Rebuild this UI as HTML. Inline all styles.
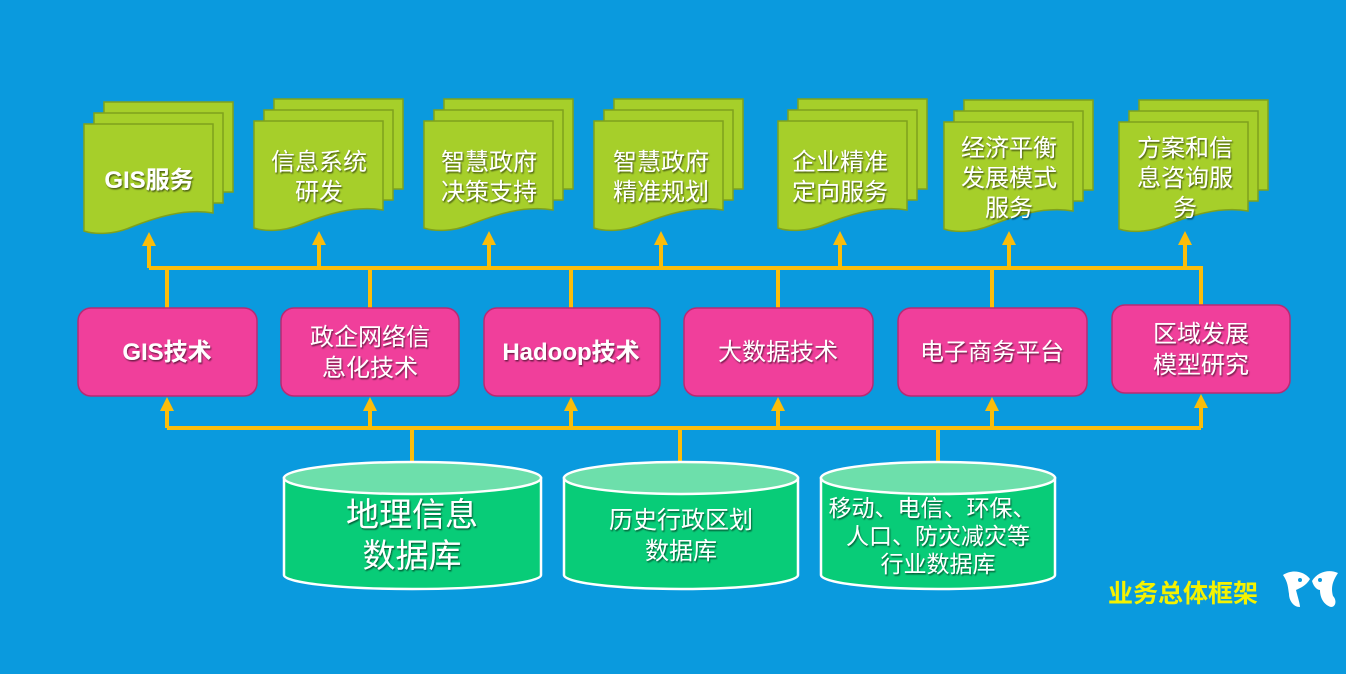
<!DOCTYPE html>
<html><head><meta charset="utf-8"><style>
html,body{margin:0;padding:0;background:#0a9ade;}
svg{display:block;}
text{font-family:"Liberation Sans","Noto Sans CJK SC",sans-serif;fill:#fff;text-anchor:middle;}
.d{font-size:24px;}
.p{font-size:24px;}
</style></head><body>
<svg width="1346" height="674" viewBox="0 0 1346 674" xmlns="http://www.w3.org/2000/svg">
<defs>
<filter id="sh" x="-10%" y="-10%" width="120%" height="130%"><feDropShadow dx="1" dy="1.5" stdDeviation="0.8" flood-color="#000" flood-opacity="0.55"/></filter>
<g id="doc">
<rect x="20" y="-22" width="129" height="90" fill="#a6cf2a" stroke="#7fa11c" stroke-width="1.5"/>
<rect x="10" y="-11" width="129" height="90" fill="#a6cf2a" stroke="#7fa11c" stroke-width="1.5"/>
<path d="M0 0H129V89C100 84 70 94 45 104C30 110 12 111 0 107Z" fill="#a6cf2a" stroke="#7fa11c" stroke-width="1.5"/>
</g>
<g id="ar"><path d="M-7 14L0 0L7 14Z" fill="#fbbd0a"/></g>
</defs>
<rect width="1346" height="674" fill="#0a9ade"/>
<use href="#doc" x="84" y="124"/>
<use href="#doc" x="254" y="121"/>
<use href="#doc" x="424" y="121"/>
<use href="#doc" x="594" y="121"/>
<use href="#doc" x="778" y="121"/>
<use href="#doc" x="944" y="122"/>
<use href="#doc" x="1119" y="122"/>
<g filter="url(#sh)">
<text class="d" x="149" y="188" font-weight="bold">GIS服务</text>
<text class="d" x="319" y="170">信息系统</text><text class="d" x="319" y="200">研发</text>
<text class="d" x="489" y="170">智慧政府</text><text class="d" x="489" y="200">决策支持</text>
<text class="d" x="661" y="170">智慧政府</text><text class="d" x="661" y="200">精准规划</text>
<text class="d" x="840" y="170">企业精准</text><text class="d" x="840" y="200">定向服务</text>
<text class="d" x="1009" y="156">经济平衡</text><text class="d" x="1009" y="186">发展模式</text><text class="d" x="1009" y="216">服务</text>
<text class="d" x="1185" y="156">方案和信</text><text class="d" x="1185" y="186">息咨询服</text><text class="d" x="1185" y="216">务</text>
</g>
<g stroke="#fbbd0a" stroke-width="4" fill="none">
<path d="M149 268H1201V305"/>
<path d="M149 268V244M319 268V244M489 268V244M661 268V244M840 268V244M1009 268V244M1185 268V244"/>
<path d="M167 268V308M370 268V308M571 268V308M778 268V308M992 268V308"/>
<path d="M167 428H1201M167 428V408M370 428V408M571 428V408M778 428V408M992 428V408M1201 428V405"/>
<path d="M412 428V464M680 428V464M938 428V464"/>
</g>
<use href="#ar" x="149" y="232"/><use href="#ar" x="319" y="231"/><use href="#ar" x="489" y="231"/><use href="#ar" x="661" y="231"/><use href="#ar" x="840" y="231"/><use href="#ar" x="1009" y="231"/><use href="#ar" x="1185" y="231"/>
<use href="#ar" x="167" y="397"/><use href="#ar" x="370" y="397"/><use href="#ar" x="571" y="397"/><use href="#ar" x="778" y="397"/><use href="#ar" x="992" y="397"/><use href="#ar" x="1201" y="394"/>
<g fill="#f03f9b" stroke="#b82a73" stroke-width="1.5">
<rect x="78" y="308" width="179" height="88" rx="13"/>
<rect x="281" y="308" width="178" height="88" rx="13"/>
<rect x="484" y="308" width="176" height="88" rx="13"/>
<rect x="684" y="308" width="189" height="88" rx="13"/>
<rect x="898" y="308" width="189" height="88" rx="13"/>
<rect x="1112" y="305" width="178" height="88" rx="13"/>
</g>
<g filter="url(#sh)">
<text class="p" x="167" y="360" font-weight="bold">GIS技术</text>
<text class="p" x="370" y="345">政企网络信</text><text class="p" x="370" y="376">息化技术</text>
<text class="p" x="571" y="360" font-weight="bold">Hadoop技术</text>
<text class="p" x="778" y="360">大数据技术</text>
<text class="p" x="992" y="360">电子商务平台</text>
<text class="p" x="1201" y="342">区域发展</text><text class="p" x="1201" y="373">模型研究</text>
</g>
<g stroke="#fff" stroke-width="2.5">
<path d="M284 478V575A128 14 0 0 0 541 575V478Z" fill="#08cc78"/>
<ellipse cx="412.5" cy="478" rx="128.5" ry="16" fill="#6ddfab"/>
<path d="M564 478V575A117 14 0 0 0 798 575V478Z" fill="#08cc78"/>
<ellipse cx="681" cy="478" rx="117" ry="16" fill="#6ddfab"/>
<path d="M821 478V575A117 14 0 0 0 1055 575V478Z" fill="#08cc78"/>
<ellipse cx="938" cy="478" rx="117" ry="16" fill="#6ddfab"/>
</g>
<g filter="url(#sh)">
<text x="412" y="526" font-size="33">地理信息</text>
<text x="412" y="567" font-size="33">数据库</text>
<text x="681" y="528" font-size="24">历史行政区划</text>
<text x="681" y="559" font-size="24">数据库</text>
<text x="932" y="516" font-size="23">移动、电信、环保、</text>
<text x="938" y="544" font-size="23">人口、防灾减灾等</text>
<text x="938" y="572" font-size="23">行业数据库</text>
</g>
<text x="1183" y="602" font-size="25" font-weight="bold" style="fill:#f5f200">业务总体框架</text>
<g fill="#fff">
<path d="M1283 575C1292 569 1304 571 1310 579C1306 586 1300 588 1296 590C1298 598 1300 604 1300 607C1293 607 1289 600 1289 594C1288 588 1288 582 1283 575Z"/>
<path d="M1338 573C1330 569 1318 571 1312 581C1314 588 1318 590 1320 590C1320 598 1324 605 1331 607C1336 607 1337 600 1333 596C1331 588 1332 582 1338 573Z"/>
</g>
<circle cx="1300" cy="580" r="2" fill="#0a9ade"/><circle cx="1320" cy="580" r="2" fill="#0a9ade"/>
</svg>
</body></html>
